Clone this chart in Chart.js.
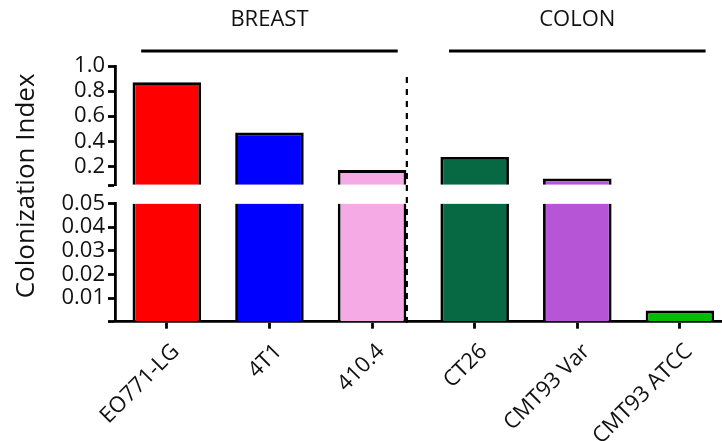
<!DOCTYPE html>
<html>
<head>
<meta charset="utf-8">
<title>Colonization Index</title>
<script src="https://cdn.jsdelivr.net/npm/chart.js@4.4.1/dist/chart.umd.min.js"></script>
<style>
  html, body { margin: 0; padding: 0; background: #ffffff; }
  #wrap { width: 722px; height: 441px; }
</style>
</head>
<body>
<div id="wrap"><canvas id="chart" width="722" height="441"></canvas></div>
<script>
// Cell lines and their colonization index
const categories = ['EO771-LG', '4T1', '410.4', 'CT26', 'CMT93 Var', 'CMT93 ATCC'];
const colonizationIndex = [0.87, 0.47, 0.17, 0.275, 0.103, 0.0047];
const barColors = ['#ff0000', '#0000ff', '#f5aae6', '#066943', '#b656d6', '#00bd00'];

// Tumour groups (first / last category index of each group)
const groupNames = ['BREAST', 'COLON'];
const groupFirst = [0, 3];
const groupLast = [2, 5];

// Broken value axis: lower segment 0–0.05, upper segment 0.05–1.0
const lowerTicks = [0.01, 0.02, 0.03, 0.04, 0.05];
const upperTicks = [0.2, 0.4, 0.6, 0.8, 1.0];
const lowerMax = 0.05;
const upperMax = 1.0;

const FONT = "'Open Sans', 'DejaVu Sans', sans-serif";
const INK = '#111111';
const LINE = 2.8;

const near = (a, b) => Math.abs(a - b) < 1e-9;

const axisGrid = {
  drawOnChartArea: false,
  color: '#000',
  tickColor: '#000',
  tickLength: 7,
  tickWidth: LINE
};
const axisBorder = { color: '#000', width: LINE };

const lowerData = colonizationIndex.map((v, i) => ({ x: i, y: Math.min(v, lowerMax) }));
const upperData = colonizationIndex.map((v, i) => ({ x: i, y: v > lowerMax ? v : null }));

// Titles, group brackets and the breast/colon divider
const decorations = {
  id: 'decorations',
  afterDraw(chart) {
    const { ctx, chartArea, scales } = chart;
    const x = scales.x;
    ctx.save();

    // value axis title
    ctx.fillStyle = INK;
    ctx.font = `26px ${FONT}`;
    ctx.textAlign = 'center';
    ctx.textBaseline = 'middle';
    ctx.translate(27, (chartArea.top + chartArea.bottom) / 2 - 8);
    ctx.rotate(-Math.PI / 2);
    ctx.fillText('Colonization Index', 0, 0);
    ctx.setTransform(1, 0, 0, 1, 0, 0);

    // group headers with bracket lines
    const lineY = chartArea.top - 15;
    groupNames.forEach((name, g) => {
      const x1 = x.getPixelForValue(groupFirst[g] - 0.25);
      const x2 = x.getPixelForValue(groupLast[g] + 0.25);
      ctx.strokeStyle = '#000';
      ctx.lineWidth = LINE;
      ctx.beginPath();
      ctx.moveTo(x1, lineY);
      ctx.lineTo(x2, lineY);
      ctx.stroke();
      ctx.fillStyle = INK;
      ctx.font = `22px ${FONT}`;
      ctx.textAlign = 'center';
      ctx.textBaseline = 'middle';
      ctx.fillText(name, x.getPixelForValue((groupFirst[g] + groupLast[g]) / 2), chartArea.top - 46);
    });

    // dashed divider right after the last breast bar
    const bar = chart.getDatasetMeta(0).data[groupLast[0]];
    const dx = bar.x + bar.width / 2 + 0.5;
    ctx.strokeStyle = '#000';
    ctx.lineWidth = 2.2;
    ctx.setLineDash([6, 6]);
    ctx.beginPath();
    ctx.moveTo(dx, chartArea.top + 11);
    ctx.lineTo(dx, chartArea.bottom + 7);
    ctx.stroke();
    ctx.restore();
  }
};

new Chart(document.getElementById('chart'), {
  type: 'bar',
  data: {
    datasets: [
      {
        label: 'lower',
        data: lowerData,
        yAxisID: 'yLow',
        backgroundColor: barColors,
        borderColor: '#000',
        borderSkipped: false,
        borderWidth: (c) => ({
          left: LINE, right: LINE, bottom: 0,
          top: colonizationIndex[c.dataIndex] > lowerMax ? 0 : LINE
        }),
        grouped: false,
        barPercentage: 0.668,
        categoryPercentage: 1
      },
      {
        label: 'upper',
        data: upperData,
        yAxisID: 'yHigh',
        base: lowerMax,
        backgroundColor: barColors,
        borderColor: '#000',
        borderSkipped: false,
        borderWidth: { left: LINE, right: LINE, top: LINE, bottom: 0 },
        grouped: false,
        barPercentage: 0.668,
        categoryPercentage: 1
      }
    ]
  },
  options: {
    responsive: false,
    devicePixelRatio: 1,
    animation: false,
    layout: { padding: { top: 66, left: 53, right: 0, bottom: 0 } },
    plugins: { legend: { display: false }, tooltip: { enabled: false } },
    scales: {
      x: {
        type: 'linear',
        min: -0.505,
        max: 5.41,
        offset: false,
        grid: Object.assign({}, axisGrid, { offset: false }),
        border: axisBorder,
        afterBuildTicks: (s) => { s.ticks = categories.map((_, i) => ({ value: i })); },
        afterFit: (s) => { s.height = 119.3; },
        ticks: {
          autoSkip: false,
          minRotation: 45,
          maxRotation: 45,
          padding: 10,
          labelOffset: 9,
          color: INK,
          font: { family: FONT, size: 22 },
          callback: (v) => categories[Math.round(v)]
        }
      },
      yHigh: {
        type: 'linear',
        position: 'left',
        stack: 'value',
        stackWeight: 119.3,
        weight: 3,
        min: lowerMax,
        max: upperMax,
        grid: axisGrid,
        border: axisBorder,
        afterBuildTicks: (s) => { s.ticks = [lowerMax].concat(upperTicks).map((v) => ({ value: v })); },
        afterFit: (s) => { s.width = 62; },
        ticks: {
          autoSkip: false,
          padding: 3,
          color: INK,
          font: { family: FONT, size: 22 },
          callback: (v) => (near(v, lowerMax) ? '' : v.toFixed(1))
        }
      },
      yGap: {
        type: 'linear',
        position: 'left',
        stack: 'value',
        stackWeight: 18.3,
        weight: 2,
        display: false
      },
      yLow: {
        type: 'linear',
        position: 'left',
        stack: 'value',
        stackWeight: 118.4,
        weight: 1,
        min: 0,
        max: lowerMax,
        grid: axisGrid,
        border: axisBorder,
        afterBuildTicks: (s) => { s.ticks = [0].concat(lowerTicks).map((v) => ({ value: v })); },
        afterFit: (s) => { s.width = 62; },
        ticks: {
          autoSkip: false,
          padding: 3,
          color: INK,
          font: { family: FONT, size: 22 },
          callback: (v) => (near(v, 0) ? '' : v.toFixed(2))
        }
      }
    }
  },
  plugins: [decorations]
});
</script>
</body>
</html>
